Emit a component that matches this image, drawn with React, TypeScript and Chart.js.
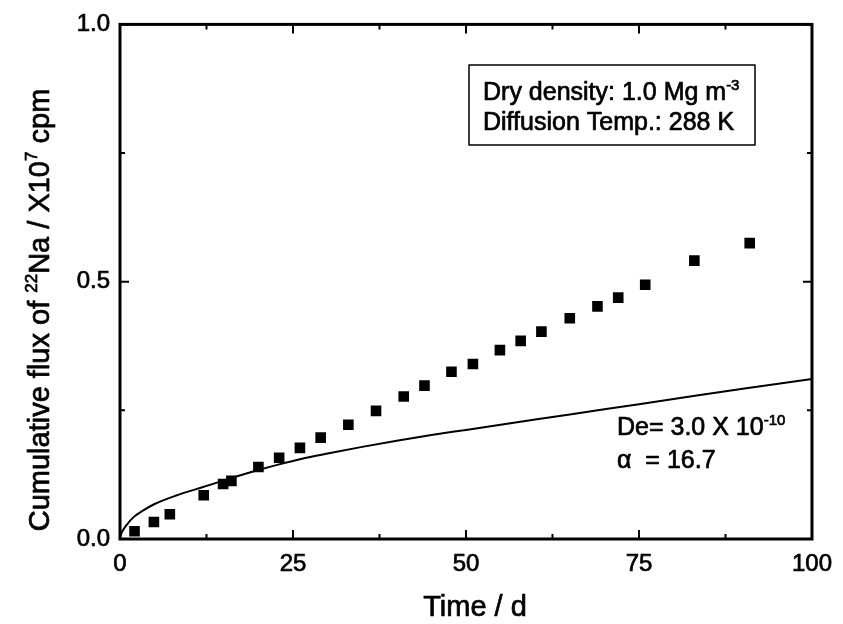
import React, { useEffect, useRef } from "react";
import { Chart, registerables } from "chart.js";

Chart.register(...registerables);

// Measured data (time in days, cumulative flux in 10^7 cpm)
const timeDays = [2.1, 4.9, 7.2, 12.1, 14.9, 16.1, 20.0, 23.0, 26.0, 29.0, 33.0, 37.0, 41.0, 44.0, 47.9, 51.0, 54.9, 57.9, 60.9, 65.0, 69.0, 72.0, 75.9, 83.0, 91.0];
const fluxValues = [0.015, 0.033, 0.048, 0.085, 0.107, 0.113, 0.140, 0.158, 0.177, 0.197, 0.222, 0.249, 0.277, 0.298, 0.325, 0.340, 0.367, 0.385, 0.403, 0.429, 0.452, 0.469, 0.494, 0.541, 0.575];

// Fitted curve
const curveTime = [0, 0.3, 1, 2, 3.3, 5, 8, 12, 16, 20, 23, 26, 30, 35, 40, 45, 50, 60, 70, 80, 90, 100];
const curveFlux = [0.004, 0.014, 0.028, 0.043, 0.055, 0.068, 0.084, 0.101, 0.118, 0.134, 0.145, 0.155, 0.166, 0.179, 0.191, 0.202, 0.212, 0.232, 0.252, 0.272, 0.292, 0.311];

const xTicks = [0, 25, 50, 75, 100];
const yTicks = [0.0, 0.5, 1.0];
const xMinorTicks = [12.5, 37.5, 62.5, 87.5];
const yMinorTicks = [0.25, 0.75];

const FONT = "'Liberation Sans', Arial, sans-serif";
const STROKE = 0.7;

type Part = { t: string; sup?: boolean };

function drawSupText(ctx: CanvasRenderingContext2D, parts: Part[], x: number, y: number, size: number, supSize: number, supRaise: number) {
  let cx = x;
  for (const p of parts) {
    ctx.font = `${p.sup ? supSize : size}px ${FONT}`;
    const yy = p.sup ? y - supRaise : y;
    ctx.fillText(p.t, cx, yy);
    ctx.strokeText(p.t, cx, yy);
    cx += ctx.measureText(p.t).width;
  }
  return cx - x;
}

function measureParts(ctx: CanvasRenderingContext2D, parts: Part[], size: number, supSize: number) {
  let w = 0;
  for (const p of parts) {
    ctx.font = `${p.sup ? supSize : size}px ${FONT}`;
    w += ctx.measureText(p.t).width;
  }
  return w;
}

const decorPlugin = {
  id: "decor",
  afterDraw(chart: any) {
    const ctx: CanvasRenderingContext2D = chart.ctx;
    const { left, right, top, bottom } = chart.chartArea;
    const xs = chart.scales.x;
    const ys = chart.scales.y;
    ctx.save();
    ctx.strokeStyle = "#000";
    ctx.fillStyle = "#000";
    // ticks (inward, all sides)
    ctx.lineWidth = 2;
    const major = 9;
    const minor = 5;
    ctx.beginPath();
    for (const v of xTicks) {
      const px = xs.getPixelForValue(v);
      ctx.moveTo(px, bottom); ctx.lineTo(px, bottom - major);
      ctx.moveTo(px, top); ctx.lineTo(px, top + major);
    }
    for (const v of xMinorTicks) {
      const px = xs.getPixelForValue(v);
      ctx.moveTo(px, bottom); ctx.lineTo(px, bottom - minor);
      ctx.moveTo(px, top); ctx.lineTo(px, top + minor);
    }
    for (const v of yTicks) {
      const py = ys.getPixelForValue(v);
      ctx.moveTo(left, py); ctx.lineTo(left + major, py);
      ctx.moveTo(right, py); ctx.lineTo(right - major, py);
    }
    for (const v of yMinorTicks) {
      const py = ys.getPixelForValue(v);
      ctx.moveTo(left, py); ctx.lineTo(left + minor, py);
      ctx.moveTo(right, py); ctx.lineTo(right - minor, py);
    }
    ctx.stroke();
    // frame
    ctx.lineWidth = 3;
    ctx.strokeRect(left, top, right - left, bottom - top);

    ctx.lineWidth = STROKE;
    ctx.lineJoin = "round";
    // x title
    ctx.textBaseline = "alphabetic";
    ctx.textAlign = "left";
    const xParts: Part[] = [{ t: "Time / d" }];
    const xw = measureParts(ctx, xParts, 29, 16);
    drawSupText(ctx, xParts, 475 - xw / 2, 616, 29, 16, 10);

    // y title (rotated, with superscripts)
    const yParts: Part[] = [
      { t: "Cumulative flux of " },
      { t: "22", sup: true },
      { t: "Na / X10" },
      { t: "7", sup: true },
      { t: " cpm" },
    ];
    const ySize = 29, ySup = 17;
    const yw = measureParts(ctx, yParts, ySize, ySup);
    ctx.save();
    ctx.translate(49, 310);
    ctx.rotate(-Math.PI / 2);
    drawSupText(ctx, yParts, -yw / 2, 0, ySize, ySup, 12);
    ctx.restore();

    // info box
    ctx.lineWidth = 1.5;
    ctx.strokeRect(469, 65, 286, 80);
    ctx.lineWidth = STROKE;
    const bSize = 25, bSup = 15;
    drawSupText(ctx, [{ t: "Dry density: 1.0 Mg m" }, { t: "-3", sup: true }], 483, 100, bSize, bSup, 10);
    drawSupText(ctx, [{ t: "Diffusion Temp.: 288 K" }], 483, 130, bSize, bSup, 10);

    // fit annotation
    drawSupText(ctx, [{ t: "De= 3.0 X 10" }, { t: "-10", sup: true }], 617, 435, bSize, bSup, 10);
    drawSupText(ctx, [{ t: "\u03b1  = 16.7" }], 617, 468, bSize, bSup, 10);
    ctx.restore();
  },
};

export default function App() {
  const canvasRef = useRef<HTMLCanvasElement | null>(null);

  useEffect(() => {
    document.body.style.margin = "0";
    const canvas = canvasRef.current;
    if (!canvas) return;
    const chart = new Chart(canvas, {
      type: "scatter",
      data: {
        datasets: [
          {
            label: "Measured",
            data: timeDays.map((t, i) => ({ x: t, y: fluxValues[i] })),
            pointStyle: "rect",
            pointRadius: 7.5,
            backgroundColor: "#000",
            borderColor: "#000",
            borderWidth: 0,
            showLine: false,
          },
          {
            label: "Fit",
            data: curveTime.map((t, i) => ({ x: t, y: curveFlux[i] })),
            showLine: true,
            borderColor: "#000",
            borderWidth: 2,
            pointRadius: 0,
            cubicInterpolationMode: "monotone",
            fill: false,
          },
        ],
      },
      options: {
        animation: false,
        responsive: false,
        maintainAspectRatio: false,
        layout: { padding: { left: 0, top: 21, right: 25, bottom: 0 } },
        plugins: {
          legend: { display: false },
          tooltip: { enabled: false },
          title: { display: false },
        },
        scales: {
          x: {
            type: "linear",
            min: 0,
            max: 100,
            afterFit: (s: any) => { s.height = 624 - 539; },
            afterBuildTicks: (s: any) => { s.ticks = xTicks.map((v) => ({ value: v })); },
            grid: { display: false, drawTicks: false },
            border: { display: false },
            ticks: {
              color: "#000",
              padding: 11,
              textStrokeColor: "#000",
              textStrokeWidth: STROKE,
              font: { size: 24, family: FONT },
              callback: (v: any) => String(v),
            },
          },
          y: {
            type: "linear",
            min: 0,
            max: 1,
            afterFit: (s: any) => { s.width = 120; },
            afterBuildTicks: (s: any) => { s.ticks = yTicks.map((v) => ({ value: v })); },
            grid: { display: false, drawTicks: false },
            border: { display: false },
            ticks: {
              color: "#000",
              padding: 10,
              textStrokeColor: "#000",
              textStrokeWidth: STROKE,
              font: { size: 24, family: FONT },
              callback: (v: any) => Number(v).toFixed(1),
            },
          },
        },
      },
      plugins: [decorPlugin],
    } as any);
    return () => chart.destroy();
  }, []);

  return (
    <div style={{ width: 843, height: 624, background: "#fff" }}>
      <canvas ref={canvasRef} width={843} height={624} style={{ display: "block" }} />
    </div>
  );
}
